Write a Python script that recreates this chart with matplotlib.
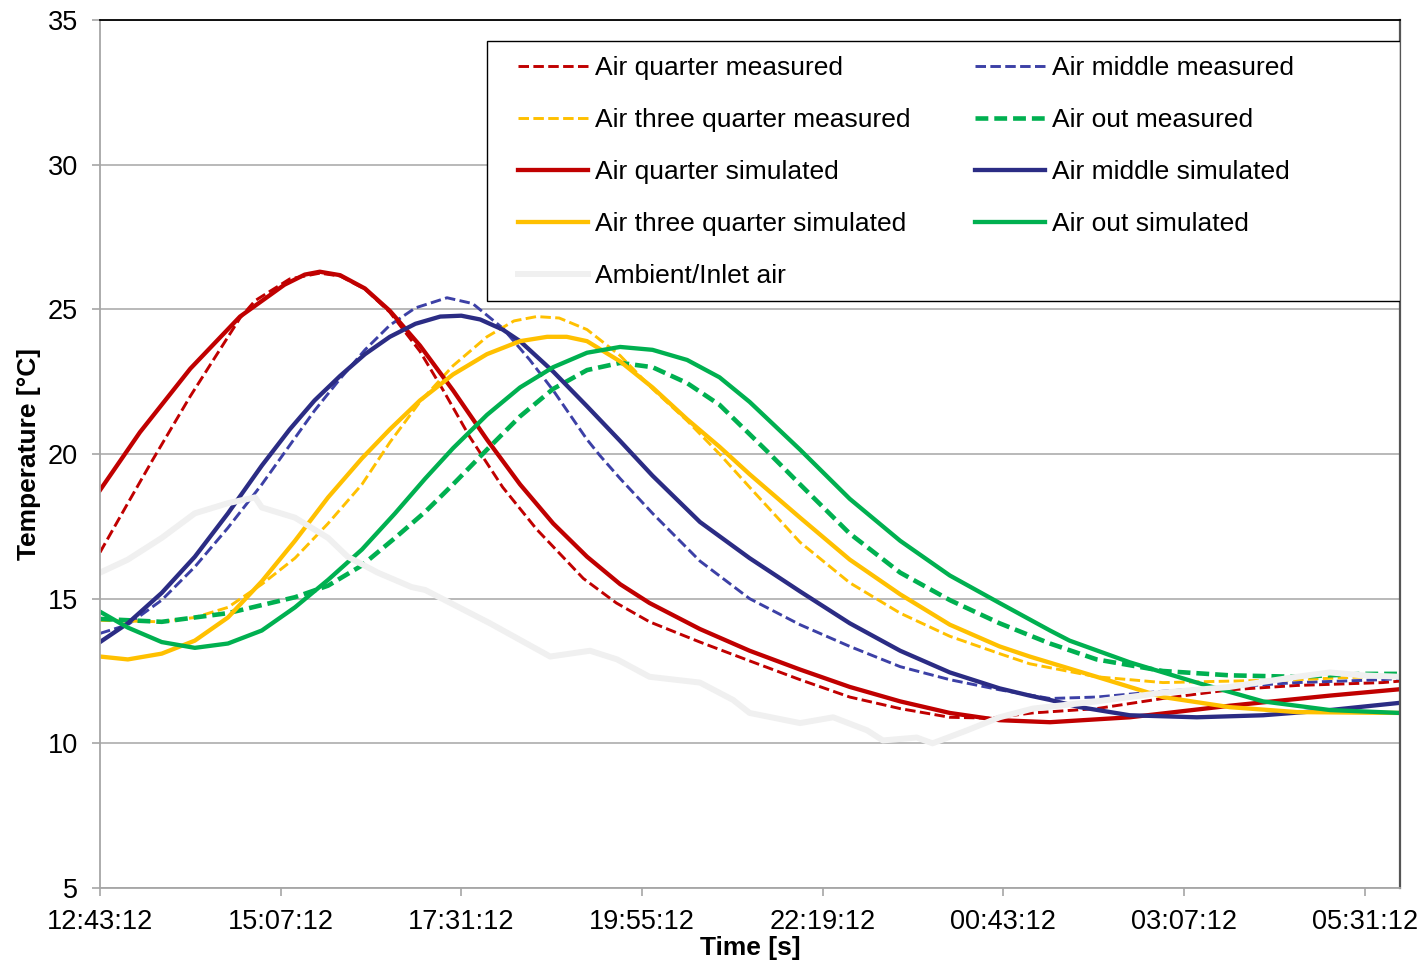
import matplotlib
matplotlib.use("Agg")
import matplotlib.pyplot as plt
from matplotlib.patches import Rectangle

plt.rcParams['font.family'] = ['Liberation Sans', 'DejaVu Sans']

# Time axis: hours since 12:43:12
tick_pos = [0, 2.4, 4.8, 7.2, 9.6, 12.0, 14.4, 16.8]
tick_labels = ["12:43:12", "15:07:12", "17:31:12", "19:55:12",
               "22:19:12", "00:43:12", "03:07:12", "05:31:12"]

# Air quarter simulated
rs_t = [0, 0.53, 1.20, 1.86, 2.45, 2.72, 2.92, 3.19, 3.52, 3.85, 4.25, 4.69, 5.14, 5.58,
        6.02, 6.47, 6.91, 7.30, 7.97, 8.63, 9.30, 9.96, 10.63, 11.29, 11.95, 12.62, 13.68,
        15.01, 16.34, 17.27]
rs_v = [18.75, 20.75, 22.95, 24.75, 25.85, 26.2, 26.3, 26.18, 25.72, 24.95, 23.75, 22.2,
        20.5, 18.95, 17.6, 16.45, 15.5, 14.85, 13.95, 13.2, 12.55, 11.95, 11.45, 11.05, 10.8,
        10.73, 10.9, 11.3, 11.65, 11.87]

# Air quarter measured
rm_t = [0, 0.37, 0.70, 1.20, 1.86, 2.06, 2.52, 2.92, 3.19, 3.52, 3.85, 4.25, 4.56, 4.91,
        5.35, 5.80, 6.42, 6.86, 7.30, 7.97, 8.63, 9.30, 9.96, 10.63, 11.29, 11.82, 12.39,
        13.24, 14.12, 15.01, 15.90, 17.04, 17.27]
rm_v = [16.6, 18.3, 19.8, 22.0, 24.7, 25.3, 26.05, 26.25, 26.15, 25.7, 24.9, 23.55, 22.2,
        20.6, 18.85, 17.4, 15.7, 14.85, 14.2, 13.5, 12.85, 12.2, 11.6, 11.2, 10.9, 10.87,
        11.05, 11.2, 11.55, 11.85, 12.0, 12.1, 12.15]

# Air middle simulated
bs_t = [0, 0.37, 0.82, 1.26, 1.70, 2.15, 2.52, 2.85, 3.19, 3.52, 3.85, 4.19, 4.52, 4.80,
        5.05, 5.35, 5.58, 6.02, 6.47, 6.91, 7.34, 7.97, 8.63, 9.30, 9.96, 10.63, 11.29,
        11.95, 12.35, 12.62, 13.02, 13.68, 14.57, 15.45, 16.34, 17.27]
bs_v = [13.5, 14.15, 15.2, 16.45, 17.95, 19.6, 20.85, 21.85, 22.7, 23.45, 24.05, 24.5,
        24.75, 24.78, 24.65, 24.3, 23.9, 22.85, 21.65, 20.45, 19.25, 17.65, 16.4, 15.25,
        14.15, 13.2, 12.45, 11.9, 11.65, 11.5, 11.25, 10.97, 10.9, 10.97, 11.15, 11.4]

# Air middle measured
bm_t = [0, 0.37, 0.82, 1.26, 1.70, 2.15, 2.52, 2.85, 3.19, 3.52, 3.85, 4.19, 4.61, 4.95,
        5.35, 5.71, 6.02, 6.47, 6.64, 6.91, 7.34, 7.97, 8.63, 9.30, 9.96, 10.63, 11.29,
        11.95, 12.62, 13.24, 14.12, 15.01, 15.90, 17.04, 17.27]
bm_v = [13.8, 14.1, 14.95, 16.1, 17.45, 18.95, 20.3, 21.5, 22.6, 23.6, 24.45, 25.05, 25.4,
        25.2, 24.35, 23.25, 22.2, 20.5, 19.95, 19.15, 17.95, 16.3, 15.0, 14.1, 13.35, 12.65,
        12.2, 11.85, 11.55, 11.6, 11.8, 11.95, 12.1, 12.2, 12.25]

# Air three quarter simulated
ys_t = [0, 0.37, 0.82, 1.26, 1.70, 2.15, 2.59, 3.03, 3.48, 3.85, 4.25, 4.69, 5.14, 5.58,
        5.94, 6.20, 6.47, 6.91, 7.34, 7.80, 8.23, 8.63, 9.30, 9.96, 10.63, 11.29, 11.95,
        12.35, 13.24, 14.12, 15.01, 15.90, 17.27]
ys_v = [13.0, 12.9, 13.1, 13.55, 14.35, 15.6, 17.0, 18.5, 19.85, 20.85, 21.85, 22.75, 23.45,
        23.9, 24.05, 24.05, 23.9, 23.2, 22.3, 21.2, 20.25, 19.3, 17.8, 16.35, 15.15, 14.1,
        13.35, 13.0, 12.3, 11.6, 11.25, 11.08, 11.05]

# Air three quarter measured
ym_t = [0, 0.82, 1.26, 1.70, 2.15, 2.59, 3.03, 3.48, 3.85, 4.25, 4.69, 5.14, 5.50, 5.80,
        6.10, 6.47, 6.91, 7.34, 7.80, 8.23, 8.63, 9.30, 9.96, 10.63, 11.29, 11.95, 12.35,
        13.24, 14.12, 15.01, 15.90, 17.27]
ym_v = [14.25, 14.2, 14.35, 14.7, 15.5, 16.4, 17.6, 18.95, 20.4, 21.8, 23.05, 24.05, 24.6,
        24.75, 24.7, 24.3, 23.4, 22.25, 21.15, 20.0, 18.85, 16.95, 15.55, 14.5, 13.7, 13.1,
        12.75, 12.3, 12.1, 12.15, 12.2, 12.35]

# Air out simulated
gs_t = [0, 0.37, 0.82, 1.26, 1.70, 2.15, 2.59, 3.03, 3.48, 3.92, 4.32, 4.69, 5.14, 5.58,
        6.02, 6.47, 6.91, 7.34, 7.80, 8.23, 8.63, 9.30, 9.96, 10.63, 11.29, 11.95, 12.62,
        12.88, 13.68, 14.57, 15.45, 16.34, 17.27]
gs_v = [14.55, 14.0, 13.5, 13.3, 13.45, 13.9, 14.7, 15.65, 16.7, 17.95, 19.15, 20.2, 21.35,
        22.3, 23.0, 23.5, 23.7, 23.6, 23.25, 22.65, 21.8, 20.15, 18.45, 17.0, 15.8, 14.85,
        13.9, 13.55, 12.8, 12.1, 11.45, 11.15, 11.05]

# Air out measured
gm_t = [0, 0.82, 1.70, 2.59, 3.03, 3.48, 3.92, 4.32, 4.69, 5.14, 5.58, 6.02, 6.47, 6.91,
        7.34, 7.80, 8.23, 8.86, 9.30, 9.96, 10.63, 11.29, 11.95, 12.62, 13.24, 14.12, 15.01,
        15.90, 16.77, 17.27]
gm_v = [14.3, 14.2, 14.5, 15.05, 15.45, 16.15, 17.1, 18.0, 18.95, 20.15, 21.3, 22.25, 22.9,
        23.15, 23.0, 22.45, 21.7, 20.1, 18.95, 17.25, 15.9, 14.95, 14.15, 13.45, 12.9, 12.5,
        12.35, 12.3, 12.4, 12.4]

# Ambient / inlet air
am_t = [0, 0.37, 0.82, 1.26, 1.70, 2.06, 2.15, 2.59, 3.03, 3.29, 3.69, 4.14, 4.32, 5.18,
        5.98, 6.51, 6.87, 7.30, 7.97, 8.41, 8.63, 9.30, 9.74, 10.19, 10.40, 10.85, 11.06,
        11.52, 11.95, 12.39, 13.24, 14.12, 15.01, 15.90, 16.34, 16.77, 17.27]
am_v = [15.9, 16.35, 17.1, 17.95, 18.3, 18.5, 18.15, 17.8, 17.1, 16.45, 15.9, 15.4, 15.3,
        14.15, 13.0, 13.2, 12.9, 12.3, 12.1, 11.5, 11.05, 10.7, 10.9, 10.45, 10.1, 10.2,
        10.0, 10.45, 10.9, 11.2, 11.45, 11.75, 11.95, 12.3, 12.45, 12.35, 12.3]

RED = "#C00000"
NAVY = "#2B2C84"
BLUE_M = "#3C40A6"
YEL = "#FFC000"
GRN = "#00B050"
AMB = "#F0F0F0"

fig = plt.figure(figsize=(14.24, 9.63), dpi=100)
ax = fig.add_axes([100/1424, 1 - 888/963, 1300/1424, 868/963])

thin_dash = (0, (3.6, 1.5))
thick_dash = (0, (2.8, 1.3))

h_rm, = ax.plot(rm_t, rm_v, color=RED, lw=2.1, ls=thin_dash, label="Air quarter measured")
h_bm, = ax.plot(bm_t, bm_v, color=BLUE_M, lw=2.1, ls=thin_dash, label="Air middle measured")
h_ym, = ax.plot(ym_t, ym_v, color=YEL, lw=2.1, ls=thin_dash, label="Air three quarter measured")
h_gm, = ax.plot(gm_t, gm_v, color=GRN, lw=3.3, ls=thick_dash, label="Air out measured")
h_rs, = ax.plot(rs_t, rs_v, color=RED, lw=3.1, label="Air quarter simulated")
h_bs, = ax.plot(bs_t, bs_v, color=NAVY, lw=3.1, label="Air middle simulated")
h_ys, = ax.plot(ys_t, ys_v, color=YEL, lw=3.1, label="Air three quarter simulated")
h_gs, = ax.plot(gs_t, gs_v, color=GRN, lw=3.1, label="Air out simulated")
h_am, = ax.plot(am_t, am_v, color=AMB, lw=4.3, label="Ambient/Inlet air")

ax.set_xlim(0, 17.27)
ax.set_ylim(5, 35)
ax.set_yticks([5, 10, 15, 20, 25, 30, 35])
ax.set_xticks(tick_pos)
ax.set_xticklabels(tick_labels)

ax.grid(axis='y', color='#A6A6A6', lw=1.1)
ax.set_axisbelow(True)

for s in ['left', 'bottom']:
    ax.spines[s].set_color('#A6A6A6')
    ax.spines[s].set_linewidth(1.3)
ax.spines['top'].set_color('#000000')
ax.spines['top'].set_linewidth(1.3)
ax.spines['right'].set_color('#555555')
ax.spines['right'].set_linewidth(1.6)

ax.tick_params(axis='both', direction='out', length=6, width=1.2, color='#A6A6A6',
               labelsize=19.5, labelcolor='black')
ax.tick_params(axis='x', pad=9)
ax.tick_params(axis='y', pad=10)

ax.set_xlabel("Time [s]", fontsize=19, fontweight='bold', labelpad=1)
ax.set_ylabel("Temperature [°C]", fontsize=19, fontweight='bold', labelpad=5)

# legend frame (drawn separately so it spans the same box as in the original)
frame = Rectangle(((487 - 100) / 1300, (888 - 301) / 868), (1400 - 487) / 1300, 260 / 868,
                  transform=ax.transAxes, facecolor='white', edgecolor='black', lw=1.0,
                  zorder=4)
ax.add_patch(frame)

handles = [h_rm, h_ym, h_rs, h_ys, h_am, h_bm, h_gm, h_bs, h_gs]
leg = ax.legend(handles=handles, labels=[h.get_label() for h in handles], ncol=2,
                loc='upper left', bbox_to_anchor=((518 - 100) / 1300, (888 - 56) / 868),
                borderaxespad=0, borderpad=0, fontsize=19, frameon=False,
                handlelength=2.65, handletextpad=0.27, columnspacing=2.45,
                labelspacing=1.06)
leg.set_zorder(5)

fig.savefig("out.png", dpi=100)
